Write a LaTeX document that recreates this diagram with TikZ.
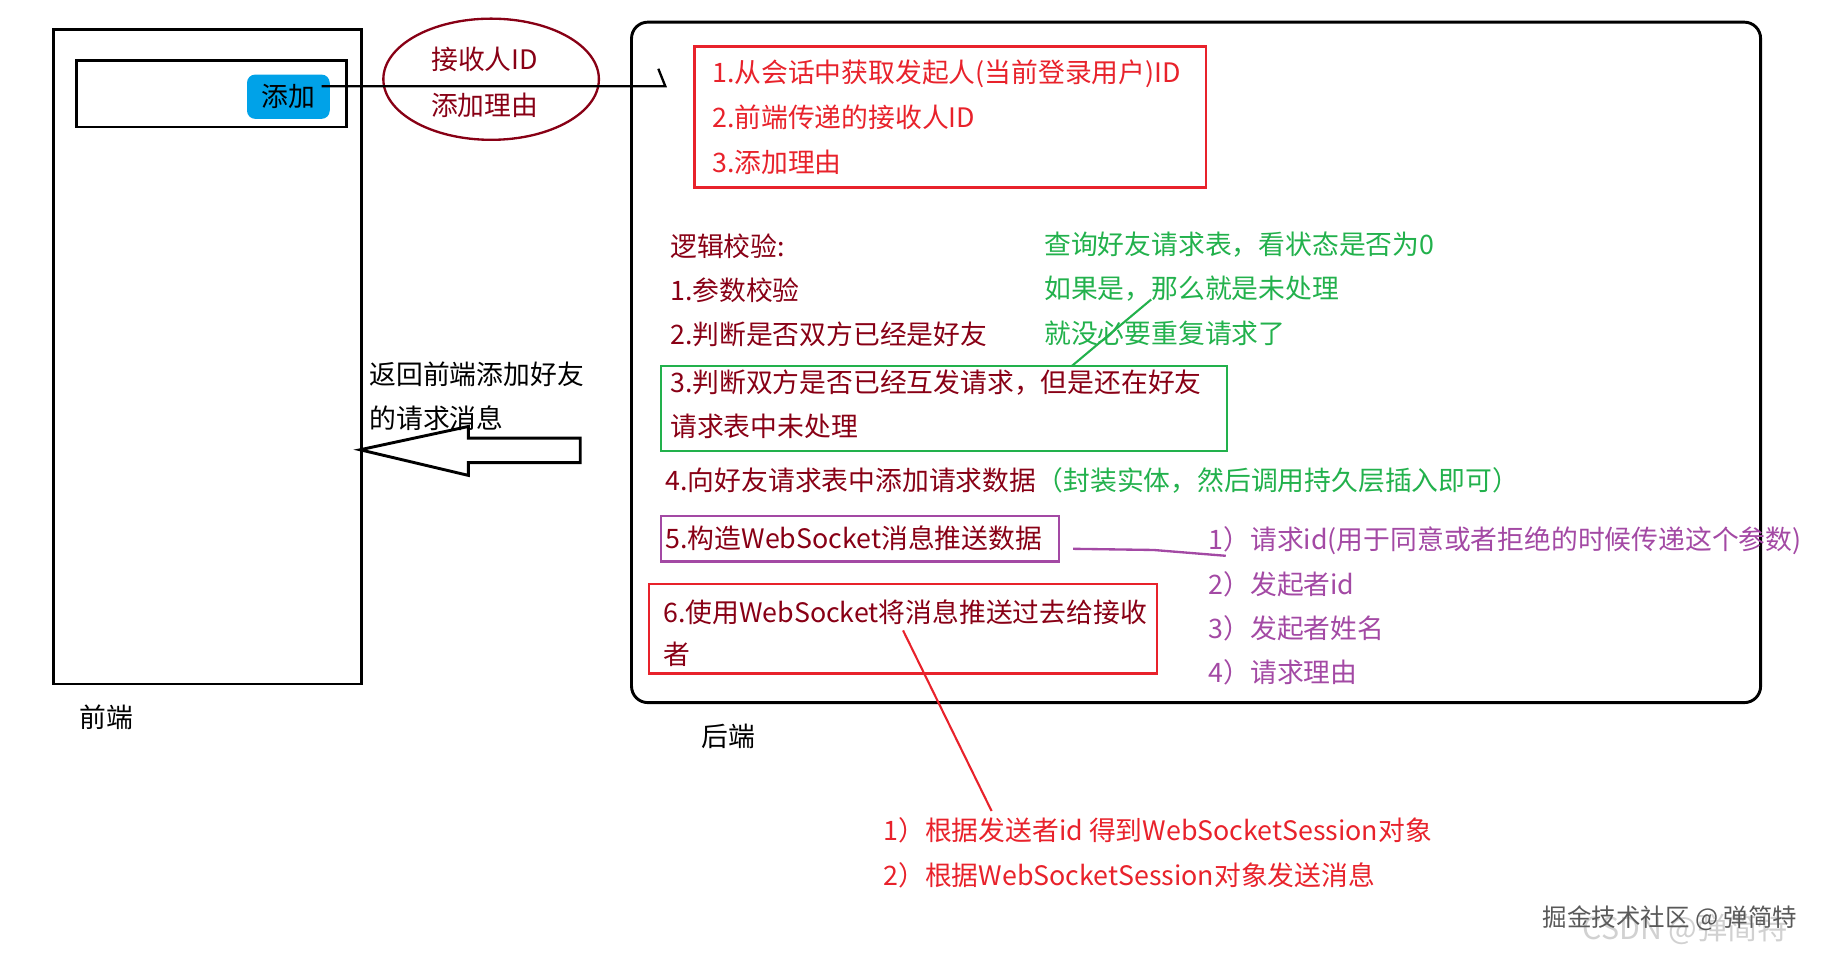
\documentclass[tikz,border=0pt]{standalone}
\usepackage{fontspec}
\setmainfont{Noto Sans CJK SC}
\usetikzlibrary{shapes.geometric}
\definecolor{dkred}{HTML}{880015}
\definecolor{pred}{HTML}{E8222B}
\definecolor{pgreen}{HTML}{22B14C}
\definecolor{ppurple}{HTML}{A349A4}
\definecolor{btnblue}{HTML}{00A2E8}
\begin{document}
\begin{tikzpicture}[x=1pt,y=-1pt,
  txt/.style={font=\fontsize{23}{28}\selectfont, inner sep=0pt, anchor=base west},
  dr/.style={txt, text=dkred},
  rd/.style={txt, text=pred},
  gr/.style={txt, text=pgreen},
  pu/.style={txt, text=ppurple},
  bk/.style={txt, text=black},
  blackbox/.style={draw=black, line width=2.5pt, inner sep=0pt, minimum width=#1},
  colbox/.style={draw=#1, line width=2pt, inner sep=0pt},
  conn/.style={line width=#1}
]
\useasboundingbox (0,0) rectangle (1568,820);

% ---------------- frontend ----------------
\node[blackbox=264, minimum height=562] (front) at (178,306) {};
\node[blackbox=231, minimum height=57] (inner) at (181.5,80.5) {};
\node[fill=btnblue, rounded corners=7pt, minimum width=71, minimum height=38, inner sep=0pt,
      font=\fontsize{23}{28}\selectfont] (btn) at (247.5,83) {添加};
\node[bk, anchor=base] (fe) at (91,624) {前端};

% ellipse with parameters
\node[ellipse, draw=dkred, line width=2pt, minimum width=185, minimum height=104, inner sep=0pt] (ell) at (421.5,68) {};
\node[dr, anchor=base] (e1) at (416,60) {接收人ID};
\node[dr, anchor=base] (e2) at (416,99) {添加理由};

% request connector
\coordinate (c0) at (276,74);
\coordinate (c1) at (571,74);
\coordinate (c2) at (565,59);
\draw[line width=2pt] (c0) -- (c1) -- (c2);

% return text + hollow arrow
\node[bk] (ret1) at (317,330) {返回前端添加好友};
\node[bk] (ret2) at (317,368) {的请求消息};
\draw[line width=2.5pt, line join=miter] (309,386) -- (402,366) -- (402,376) -- (498,376) -- (498,397) -- (402,397) -- (402,408) -- cycle;

% ---------------- backend ----------------
\node[draw=black, line width=2.5pt, rounded corners=14pt, minimum width=969, minimum height=584, inner sep=0pt] (back) at (1026.5,311) {};
\node[bk, anchor=base] (be) at (625,641) {后端};

% red box 1
\node[colbox=pred, minimum width=439, minimum height=121] (rb1) at (815.5,100.5) {};
\node[rd] (r1) at (611,71) {1.从会话中获取发起人(当前登录用户)ID};
\node[rd] (r2) at (611,109) {2.前端传递的接收人ID};
\node[rd] (r3) at (611,148) {3.添加理由};

% logic checks
\node[dr] (l0) at (575,220) {逻辑校验:};
\node[dr] (l1) at (575,258) {1.参数校验};
\node[dr] (l2) at (575,296) {2.判断是否双方已经是好友};

\node[gr] (g1) at (896,218) {查询好友请求表，看状态是否为0};
\node[gr] (g2) at (896,256) {如果是，那么就是未处理};
\node[gr] (g3) at (896,295) {就没必要重复请求了};

\node[colbox=pgreen, minimum width=486, minimum height=73] (gb) at (810,350.5) {};
\node[dr] (l3a) at (575,337) {3.判断双方是否已经互发请求，但是还在好友};
\node[dr] (l3b) at (575,375) {请求表中未处理};
\coordinate (gA) at (988,257);
\coordinate (gB) at (920,314);
\draw[pgreen, line width=1.8pt] (gA) -- (gB);

\node[dr] (l4) at (571,421) {4.向好友请求表中添加请求数据};
\node[gr, anchor=base west] (l4g) at (l4.base east) {（封装实体，然后调用持久层插入即可）};

% purple box
\node[colbox=ppurple, minimum width=342, minimum height=39] (pb) at (738,462.5) {};
\node[dr] (l5) at (571,471) {5.构造WebSocket消息推送数据};
\node[pu] (p1) at (1037,472) {1）请求id(用于同意或者拒绝的时候传递这个参数)};
\node[pu] (p2) at (1037,510) {2）发起者id};
\node[pu] (p3) at (1037,548) {3）发起者姓名};
\node[pu] (p4) at (1037,586) {4）请求理由};
\coordinate (pA) at (921,471);
\coordinate (pB) at (1052,477);
\draw[ppurple, line width=2pt] (pA) -- (990,472) -- (pB);

% red box 2
\node[colbox=pred, minimum width=436, minimum height=77] (rb2) at (775,539.5) {};
\node[dr] (l6a) at (569,534) {6.使用WebSocket将消息推送过去给接收};
\node[dr] (l6b) at (569,570) {者};
\coordinate (rA) at (775,541);
\coordinate (rB) at (851,696);
\draw[pred, line width=1.8pt] (rA) -- (rB);
\node[rd] (s1) at (758,721) {1）根据发送者id 得到WebSocketSession对象};
\node[rd] (s2) at (758,760) {2）根据WebSocketSession对象发送消息};

% watermark
\node[txt, anchor=west, text=black!18, font=\fontsize{26}{30}\selectfont] (wm2) at (1358,798) {CSDN @弹简特};
\node[txt, anchor=west, text=black!65, font=\fontsize{21}{26}\selectfont] (wm1) at (1324,788) {掘金技术社区 @ 弹简特};
\end{tikzpicture}
\end{document}
